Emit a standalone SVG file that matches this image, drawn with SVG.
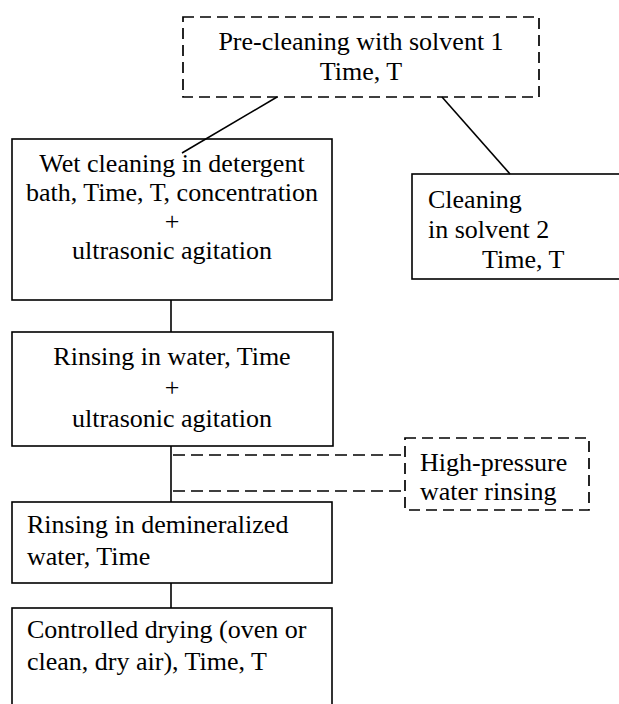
<svg xmlns="http://www.w3.org/2000/svg" width="619" height="704" viewBox="0 0 619 704">
<style>
.box{fill:#fff;stroke:#000;stroke-width:1.6}
.dash{fill:#fff;stroke:#000;stroke-width:1.7;stroke-dasharray:11 6}
.ln{stroke:#000;stroke-width:1.6;fill:none}
.dl{stroke:#000;stroke-width:1.7;fill:none;stroke-dasharray:12 6}
.c{text-anchor:middle}
</style>
<rect width="619" height="704" fill="#fff"/>
<g font-family="'Liberation Serif', 'Times New Roman', 'DejaVu Serif', serif" font-size="26" fill="#000">
<g id="node-precleaning">
<rect class="dash" x="183" y="17" width="356" height="80"/>
<text class="c" x="361" y="50">Pre-cleaning with solvent 1</text>
<text class="c" x="361" y="80">Time, T</text>
</g>
<g id="node-wetcleaning">
<rect class="box" x="12" y="139" width="320" height="161"/>
<text class="c" x="172" y="172">Wet cleaning in detergent</text>
<text class="c" x="172" y="201">bath, Time, T, concentration</text>
<text class="c" x="172" y="230">+</text>
<text class="c" x="172" y="259">ultrasonic agitation</text>
</g>
<g id="node-solvent2">
<rect class="box" x="412" y="174" width="210" height="105"/>
<text x="428" y="208">Cleaning</text>
<text x="428" y="238">in solvent 2</text>
<text x="482" y="268">Time, T</text>
</g>
<g id="node-rinsewater">
<rect class="box" x="12" y="332" width="321" height="114"/>
<text class="c" x="172" y="365">Rinsing in water, Time</text>
<text class="c" x="172" y="396">+</text>
<text class="c" x="172" y="427">ultrasonic agitation</text>
</g>
<g id="node-highpressure">
<rect class="dash" x="405" y="438" width="184" height="72"/>
<text x="420" y="471">High-pressure</text>
<text x="420" y="500">water rinsing</text>
</g>
<g id="node-demin">
<rect class="box" x="12" y="502" width="320" height="81"/>
<text x="27" y="533">Rinsing in demineralized</text>
<text x="27" y="565">water, Time</text>
</g>
<g id="node-drying">
<rect class="box" x="12" y="608" width="320" height="110"/>
<text x="27" y="638">Controlled drying (oven or</text>
<text x="27" y="670">clean, dry air), Time, T</text>
</g>
</g>
<g id="connectors">
<line class="ln" x1="277" y1="97" x2="182" y2="153"/>
<line class="ln" x1="442" y1="97" x2="510" y2="174"/>
<line class="ln" x1="171" y1="300" x2="171" y2="332"/>
<line class="ln" x1="171" y1="446" x2="171" y2="502"/>
<line class="dl" x1="173" y1="455" x2="405" y2="455"/>
<line class="dl" x1="173" y1="491" x2="405" y2="491"/>
<line class="ln" x1="171" y1="583" x2="171" y2="608"/>
</g>
</svg>
